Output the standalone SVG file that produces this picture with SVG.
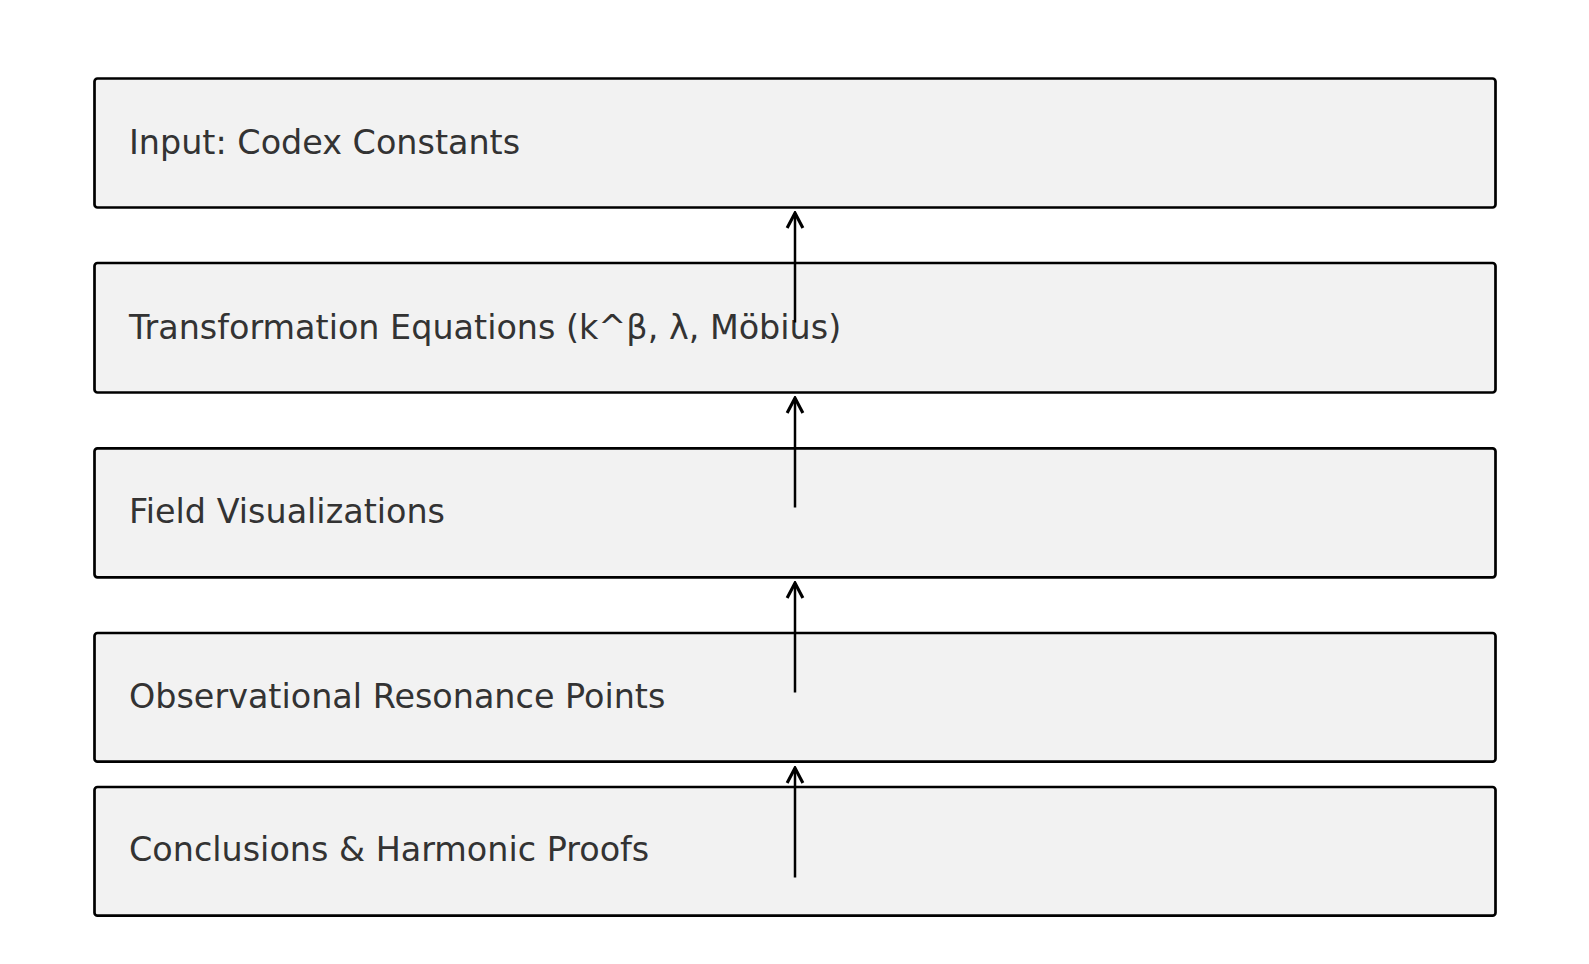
<svg xmlns="http://www.w3.org/2000/svg" width="1589" height="964" viewBox="0 0 1589 964">
<style>
.box{fill:#f2f2f2;stroke:#000;stroke-width:2.7}
.lbl{font-family:"DejaVu Sans",sans-serif;font-size:33.4px;fill:#333}
.edge{stroke:#000;stroke-width:2.5;fill:none}
</style>
<defs>
<marker id="ah" markerUnits="userSpaceOnUse" markerWidth="20" markerHeight="20" viewBox="-14 -8 16 16" refX="0" refY="0" orient="auto">
<path d="M-12,-6.3 L0,0 L-12,6.3" fill="none" stroke="#000" stroke-width="2.5"/>
</marker>
</defs>
<rect width="1589" height="964" fill="#fff"/>
<g id="n1"><rect class="box" x="94.5" y="78.5" width="1401" height="129" rx="3"/><text class="lbl" x="129" y="154">Input: Codex Constants</text></g>
<g id="n2"><rect class="box" x="94.5" y="263" width="1401" height="129.5" rx="3"/><text class="lbl" x="129" y="338.5">Transformation Equations (k^β, λ, Möbius)</text></g>
<g id="n3"><rect class="box" x="94.5" y="448.3" width="1401" height="129" rx="3"/><text class="lbl" x="129" y="523">Field Visualizations</text></g>
<g id="n4"><rect class="box" x="94.5" y="633" width="1401" height="128.7" rx="3"/><text class="lbl" x="129" y="707.5">Observational Resonance Points</text></g>
<g id="n5"><rect class="box" x="94.5" y="787" width="1401" height="128.7" rx="3"/><text class="lbl" x="129" y="861">Conclusions &amp; Harmonic Proofs</text></g>
<g id="edges">
<line class="edge" x1="795" y1="322.5" x2="795" y2="213" marker-end="url(#ah)"/>
<line class="edge" x1="795" y1="507.5" x2="795" y2="398" marker-end="url(#ah)"/>
<line class="edge" x1="795" y1="692.5" x2="795" y2="583" marker-end="url(#ah)"/>
<line class="edge" x1="795" y1="877.5" x2="795" y2="768" marker-end="url(#ah)"/>
</g>
</svg>
